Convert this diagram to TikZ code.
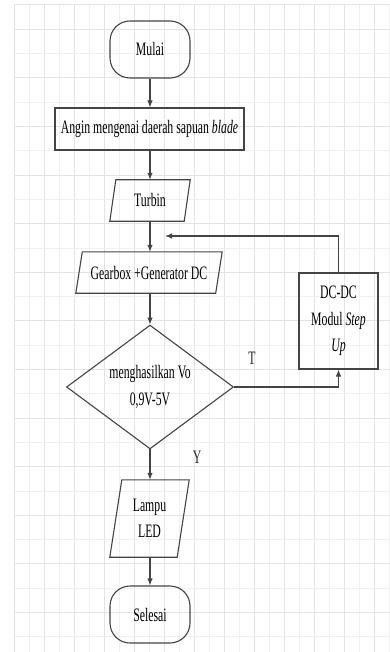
\documentclass[tikz,border=0pt]{standalone}
\usepackage{fontspec}
\setmainfont[FakeStretch=0.62]{Liberation Serif}
\usetikzlibrary{arrows.meta,shapes.geometric}
\definecolor{gridA}{HTML}{E3E3E3}
\definecolor{gridB}{HTML}{F0F0F0}
\definecolor{linec}{HTML}{444444}
\newcommand\fsz{\fontsize{19}{26.5}\selectfont}
\tikzset{
  shapeline/.style={draw=linec, line width=1.1pt},
  term/.style={shapeline, rounded corners=20pt, minimum width=80pt, minimum height=57pt, inner sep=0pt, font=\fsz},
  procbox/.style={shapeline, inner sep=0pt, font=\fsz, align=center},
  parabox/.style={draw=none, inner sep=0pt, font=\fsz, align=center},
  decide/.style={shapeline, diamond, inner sep=0pt, minimum width=167pt, minimum height=123pt, font=\fsz, align=center},
  flow/.style={draw=linec, line width=1.1pt, -{Latex[length=7pt,width=5.5pt]}},
  lbl/.style={inner sep=0pt, font=\fsz, text=black!85}
}
\newcommand\paradraw[2]{\draw[shapeline] ([xshift=#2pt]#1.north west) -- (#1.north east) -- ([xshift=-#2pt]#1.south east) -- (#1.south west) -- cycle;}
\begin{document}
\begin{tikzpicture}[x=1pt,y=-1pt]
\useasboundingbox (0,0) rectangle (390,652);
\fill[white] (0,0) rectangle (390,652);
% grid
\foreach \k in {1,3,...,25} {\draw[gridB, line width=1pt] (14+15*\k,5) -- (14+15*\k,652);}
\foreach \k in {0,2,...,24} {\draw[gridA, line width=1pt] (14+15*\k,5) -- (14+15*\k,652);}
\foreach \k in {0,2,...,26} {\draw[gridB, line width=1pt] (14,5+24.3*\k) -- (390,5+24.3*\k);}
\foreach \k in {1,3,...,25} {\draw[gridA, line width=1pt] (14,5+24.3*\k) -- (390,5+24.3*\k);}
\draw[gridA, line width=1pt] (14,5) -- (14,652);
\draw[gridA, line width=1pt] (14,5) -- (390,5);
% nodes
\node[term] (mulai) at (150,49.5) {Mulai};
\node[procbox, minimum width=189pt, minimum height=42pt] (angin) at (149.5,129) {Angin mengenai daerah sapuan \textit{blade}};
\node[parabox, minimum width=80pt, minimum height=41pt] (turbin) at (150,200.5) {Turbin};
\paradraw{turbin}{6}
\node[parabox, minimum width=146pt, minimum height=41pt] (gear) at (149,272.5) {Gearbox +Generator DC};
\paradraw{gear}{6.5}
\node[decide] (dia) at (150,387) {menghasilkan Vo\\0,9V-5V};
\node[procbox, minimum width=79pt, minimum height=96pt] (dcdc) at (338.5,321) {DC-DC\\Modul \textit{Step}\\\textit{Up}};
\node[parabox, minimum width=79pt, minimum height=77pt] (lampu) at (149.5,518.5) {Lampu\\LED};
\paradraw{lampu}{12}
\node[term] (selesai) at (150,614.5) {Selesai};
\node[lbl] (tl) at (252,358) {T};
\node[lbl] (yl) at (197,457) {Y};
\coordinate (fb) at (165,236);
% connectors
\draw[flow] (mulai.south) -- (mulai.south |- angin.north);
\draw[flow] (mulai.south |- angin.south) -- (mulai.south |- turbin.north);
\draw[flow] (turbin.south) -- (turbin.south |- gear.north);
\draw[flow] (dia.north |- gear.south) -- (dia.north);
\draw[flow] (dia.south) -- (dia.south |- lampu.north);
\draw[flow] (selesai.north |- lampu.south) -- (selesai.north);
\draw[flow] (dia.east) -| (dcdc.south);
\draw[flow] (dcdc.north) |- (fb);
\end{tikzpicture}
\end{document}
